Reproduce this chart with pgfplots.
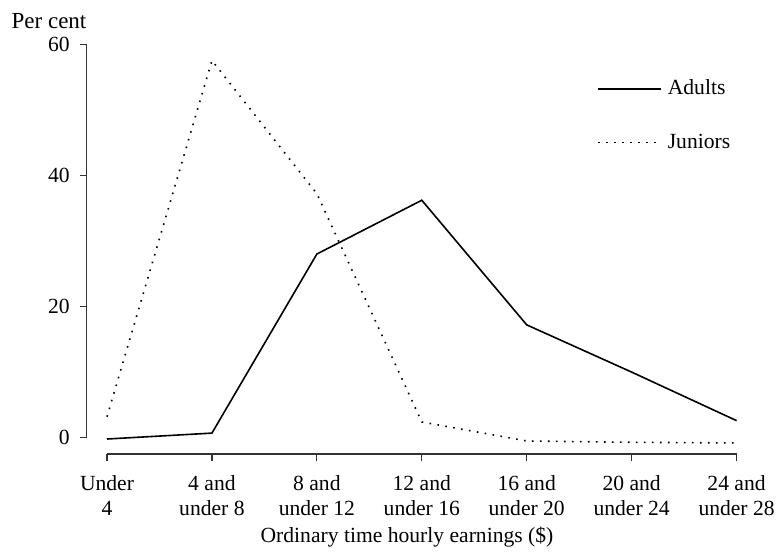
\documentclass[border=0pt]{standalone}
\usepackage{fontspec}
\setmainfont{Liberation Serif}
\usepackage{pgfplots}
\pgfplotsset{compat=1.18}
\begin{document}
\begin{tikzpicture}
\useasboundingbox (-53.5pt,-57.65pt) rectangle (335.5pt,218.85pt);
\begin{axis}[
    scale only axis,
    width=314.8pt, height=196.8pt,
    xmin=0, xmax=6, ymin=0, ymax=60,
    axis x line*=bottom, axis y line*=left,
    axis x line shift=8.15pt, axis y line shift=10.15pt,
    axis line style={black!80, line width=0.6pt},
    every tick/.style={black!80, line width=0.6pt},
    tick align=outside, major tick length=3.5pt,
    xtick={0,...,6},
    xticklabels={{Under\\4},{4 and\\under 8},{8 and\\under 12},{12 and\\under 16},{16 and\\under 20},{20 and\\under 24},{24 and\\under 28}},
    xticklabel style={align=center, yshift=-3.5pt, font=\fontsize{10.8}{12.5}\selectfont},
    ytick={0,20,40,60},
    yticklabel style={xshift=-1.5pt, font=\fontsize{10.8}{12.5}\selectfont},
    /pgf/number format/assume math mode=true,
    clip=false,
    legend cell align=left,
    legend style={draw=none, fill=none, at={(rel axis cs:0.778,0.92)}, anchor=north west,
        inner sep=0pt, row sep=14pt, font=\fontsize{10.8}{12.5}\selectfont,
        nodes={inner xsep=3pt}},
    legend image code/.code={\draw[#1] (0pt,0pt) -- (31.5pt,0pt);},
]
\addplot[black, line width=0.8pt] coordinates {(0,-0.2) (1,0.7) (2,28) (3,36.2) (4,17.2) (5,10) (6,2.6)};
\addplot[black, line width=0.8pt, dash pattern=on 0.8pt off 3.2pt] coordinates {(0,3.2) (1,57.5) (2,37.2) (3,2.4) (4,-0.5) (5,-0.7) (6,-0.8)};
\legend{Adults, Juniors}
\end{axis}
\node[font=\fontsize{11.5}{12.5}\selectfont] at (-29pt,208.4pt) {Per cent};
\node[font=\fontsize{10.8}{12.5}\selectfont] at (150pt,-49.6pt) {Ordinary time hourly earnings (\$)};
\end{tikzpicture}
\end{document}
